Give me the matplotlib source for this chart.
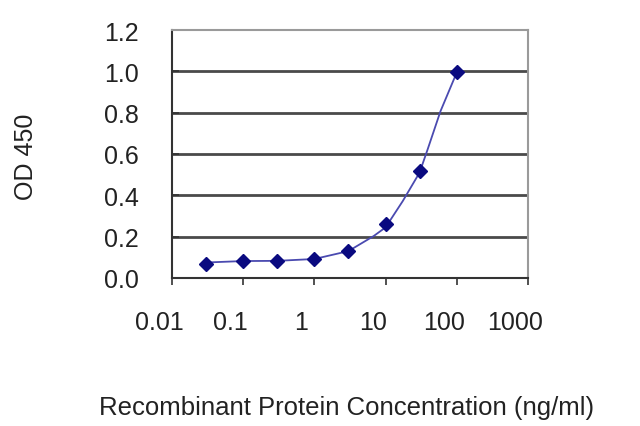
import matplotlib
matplotlib.use("Agg")
import matplotlib.pyplot as plt
import matplotlib.transforms as mtransforms

# data
conc = [0.03, 0.1, 0.3, 1, 3, 10, 30, 100]
od = [0.068, 0.082, 0.082, 0.092, 0.13, 0.26, 0.517, 0.995]
# fitted curve
fit_conc = [0.03, 0.1, 0.3, 1, 3, 6.8, 10, 17.4, 30, 39, 59, 100]
fit_od = [0.075, 0.082, 0.083, 0.092, 0.13, 0.203, 0.245, 0.372, 0.51, 0.623, 0.807, 0.995]
x_ticks = [0.01, 0.1, 1, 10, 100, 1000]
x_ticklabels = ["0.01", "0.1", "1", "10", "100", "1000"]
y_ticks = [0.0, 0.2, 0.4, 0.6, 0.8, 1.0, 1.2]
y_ticklabels = ["0.0", "0.2", "0.4", "0.6", "0.8", "1.0", "1.2"]

plt.rcParams['font.family'] = ['Liberation Sans', 'DejaVu Sans']
fig = plt.figure(figsize=(6.4, 4.27), dpi=100)
ax = fig.add_axes([172/640, 148/427, (528-172)/640, (279-31)/427])

ax.set_xscale('log')
ax.set_xlim(0.01, 1000)
ax.set_ylim(0, 1.2)

for y in y_ticks[1:-1]:
    ax.axhline(y, color='#4a4a4a', lw=2.0, zorder=1)

ax.plot(fit_conc, fit_od, color='#4a4ab0', lw=1.3, zorder=2)
ax.plot(conc, od, linestyle='none', marker='D', ms=7.5, color='#0a0a80', zorder=3)

ax.set_xticks(x_ticks)
ax.set_xticklabels(x_ticklabels)
ax.xaxis.set_minor_locator(matplotlib.ticker.NullLocator())
ax.set_yticks(y_ticks)
ax.set_yticklabels(y_ticklabels)

ax.tick_params(axis='x', direction='out', length=5, width=1.2, color='#333333',
               labelsize=18, pad=18, labelcolor='#222222')
ax.tick_params(axis='y', direction='in', length=5, width=1.2, color='#333333',
               labelsize=18, pad=24, labelcolor='#222222')

offset = mtransforms.ScaledTranslation(-13/100, 0, fig.dpi_scale_trans)
for lab in ax.get_xticklabels():
    lab.set_transform(lab.get_transform() + offset)

for side in ['left', 'bottom']:
    ax.spines[side].set_color('#333333')
    ax.spines[side].set_linewidth(1.5)
for side in ['top', 'right']:
    ax.spines[side].set_color('#9a9a9a')
    ax.spines[side].set_linewidth(1.5)

fig.text(347/640, 1 - 408/427, "Recombinant Protein Concentration (ng/ml)",
         ha='center', va='center', fontsize=18.5, color='#222222')
fig.text(26/640, 1 - 157/427, "OD 450", rotation=90,
         ha='center', va='center', fontsize=18, color='#222222')

fig.savefig("out.png", dpi=100)
